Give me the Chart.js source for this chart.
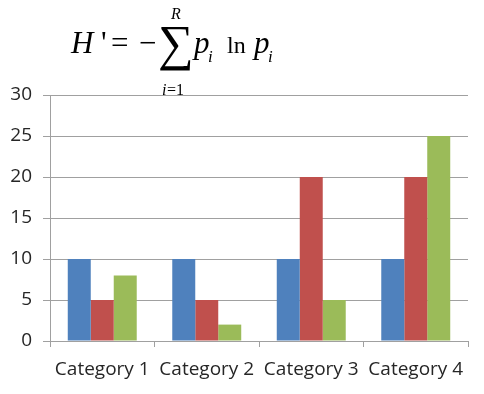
<!DOCTYPE html>
<html>
<head>
<meta charset="utf-8">
<script src="https://cdn.jsdelivr.net/npm/chart.js@4"></script>
<style>
  html, body { margin: 0; padding: 0; background: #fff; }
  #wrap { position: relative; width: 484px; height: 394px; }
  #formula { position: absolute; left: 0; top: 0; width: 484px; height: 100px;
             font-family: "Liberation Serif", "DejaVu Serif", serif; color: #000; }
  #formula span { position: absolute; line-height: 1; white-space: nowrap; }
  .it { font-style: italic; }
</style>
</head>
<body>
<div id="wrap">
  <canvas id="chart" width="484" height="394"></canvas>
  <div id="formula">
    <span class="it" style="left:71px; top:27px; font-size:31px;">H</span>
    <span style="left:101px; top:27px; font-size:31px;">'</span>
    <span style="left:111px; top:27px; font-size:31px;">=</span>
    <span style="left:139px; top:27px; font-size:31px;">−</span>
    <span style="left:158px; top:18px; font-size:50px;">∑</span>
    <span class="it" style="left:171px; top:6px; font-size:16px;">R</span>
    <span class="it" style="left:162px; top:82px; font-size:16px;">i</span>
    <span style="left:167px; top:82px; font-size:16px;">=1</span>
    <span class="it" style="left:194px; top:27px; font-size:31px;">p</span>
    <span class="it" style="left:208px; top:48px; font-size:17px;">i</span>
    <span style="left:227px; top:33px; font-size:24px;">ln</span>
    <span class="it" style="left:254px; top:27px; font-size:31px;">p</span>
    <span class="it" style="left:268px; top:48px; font-size:17px;">i</span>
  </div>
</div>
<script>
// data
const categories = ["Category 1", "Category 2", "Category 3", "Category 4"];
const series1 = [10, 10, 10, 10];
const series2 = [5, 5, 20, 20];
const series3 = [8, 2, 5, 25];
const yTicks = [0, 5, 10, 15, 20, 25, 30];

const gridGray = "#a0a0a0";
const textColor = "#262626";
const tickFont = { family: "Open Sans", size: 19 };

new Chart(document.getElementById("chart"), {
    type: "bar",
    data: {
        labels: categories,
        datasets: [
            { label: "Series 1", data: series1, backgroundColor: "#4F81BD" },
            { label: "Series 2", data: series2, backgroundColor: "#C0504D" },
            { label: "Series 3", data: series3, backgroundColor: "#9BBB59" }
        ]
    },
    options: {
        responsive: false,
        animation: false,
        layout: {
            padding: { top: 95, right: 16, left: 0, bottom: 0 }
        },
        datasets: {
            bar: { categoryPercentage: 0.66, barPercentage: 1 }
        },
        plugins: {
            legend: { display: false },
            tooltip: { enabled: false }
        },
        scales: {
            x: {
                grid: {
                    offset: true,
                    drawOnChartArea: false,
                    drawTicks: true,
                    tickLength: 6,
                    color: gridGray
                },
                border: { color: gridGray },
                ticks: { color: textColor, font: tickFont, padding: 11, maxRotation: 0 },
                afterFit: s => { s.height = 53; }
            },
            y: {
                min: 0,
                max: 30,
                afterBuildTicks: s => { s.ticks = yTicks.map(v => ({ value: v })); },
                grid: {
                    color: gridGray,
                    drawTicks: true,
                    tickLength: 7
                },
                border: { color: gridGray },
                ticks: { color: textColor, font: tickFont, padding: 11 },
                afterFit: s => { s.width = 50; }
            }
        }
    }
});
</script>
</body>
</html>
